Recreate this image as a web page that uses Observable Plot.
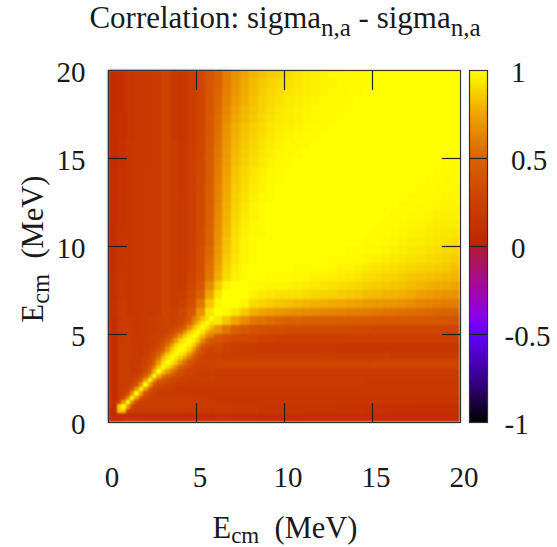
<!DOCTYPE html>
<html><head><meta charset="utf-8">
<script src="https://cdn.jsdelivr.net/npm/d3@7"></script>
<script src="https://cdn.jsdelivr.net/npm/@observablehq/plot@0.6"></script>
<style>
html,body{margin:0;padding:0;background:#fff}
#chart{position:relative;width:557px;height:547px;overflow:hidden}
#chart svg{position:absolute;left:0;top:0;background:transparent}
</style></head><body><div id="chart"></div>
<script>
// Correlation x100. The matrix is symmetric, so only x <= y is listed.
// Rows for E 0..6 MeV in 0.25 MeV bins
const fineRows = [
[12],
[10,6],
[9,7,85],
[16,7,85,100],
[18,8,24,72,100],
[16,8,20,32,68,100],
[15,8,20,22,34,68,100],
[15,8,20,22,24,36,70,100],
[14,8,20,22,22,26,38,70,100],
[14,8,20,22,22,22,28,42,72,100],
[14,8,20,22,22,20,24,30,45,70,100],
[14,8,20,22,22,20,20,26,34,50,78,100],
[14,8,20,22,22,20,20,24,30,40,60,85,100],
[14,8,20,22,22,20,18,22,27,34,48,70,90,100],
[14,8,20,22,22,20,18,20,25,30,40,58,80,93,100],
[14,8,20,22,22,20,18,18,22,28,34,46,64,84,94,100],
[14,8,20,22,22,20,18,18,21,24,29,36,48,68,85,95,100],
[14,8,20,21,22,20,18,18,20,23,26,31,40,54,72,88,96,100],
[13,8,20,21,21,20,18,18,20,22,24,27,33,42,56,72,88,96,100],
[13,8,20,21,21,19,18,18,20,22,24,25,27,33,42,54,70,86,95,100],
[13,8,19,20,21,19,17,18,20,22,22,24,26,27,32,40,52,68,84,94,100],
[13,8,18,20,20,19,17,18,20,22,22,24,26,27,26,30,38,50,66,82,93,100],
[12,8,18,20,20,18,17,18,20,22,22,24,26,27,25,26,30,38,50,65,80,92,100],
[12,8,18,20,20,18,17,18,20,22,22,24,26,27,25,25,28,34,42,60,70,82,92,100]
];
// Rows for E 6..20 MeV in 0.5 MeV bins; columns start at x = 0 in 0.5 MeV bins
const coarseRows = [
[12,20,17,18,20,20,27,24,30,42,68,93,100],
[12,19,17,18,20,20,27,22,25,36,58,84,98,100],
[11,18,17,18,20,20,27,22,22,32,48,75,93,100,100],
[11,18,17,18,20,20,27,22,20,30,42,66,86,97,100,100],
[11,18,17,18,20,20,27,22,19,28,38,58,78,90,96,99,100],
[10,16,17,18,20,20,27,22,18,26,37,56,75,88,95,98,100,100],
[10,16,17,18,20,20,27,22,18,25,36,54,72,86,93,97,99,100,100],
[10,15,17,18,19,20,27,22,18,24,35,52,70,84,92,97,99,100,100,100],
[10,15,17,18,19,20,27,22,18,24,34,50,68,83,92,97,99,100,100,100,100],
[10,15,17,18,19,20,27,22,18,24,34,50,67,81,91,96,98,99,100,100,100,100],
[9,14,17,18,19,20,27,22,18,24,33,49,66,80,90,95,98,99,100,100,100,100,100],
[9,14,17,18,19,20,27,22,18,24,33,48,65,79,89,94,97,99,100,100,100,100,100,100],
[9,14,17,18,19,20,27,21,18,24,32,48,64,78,88,93,97,99,100,100,100,100,100,100,100],
[9,14,17,18,19,20,27,21,18,24,32,47,63,77,87,92,96,98,99,100,100,100,100,100,100,100],
[9,13,17,18,19,20,27,21,17,24,31,47,62,76,86,91,95,97,99,100,100,100,100,100,100,100,100],
[9,13,17,18,19,20,27,21,17,23,31,46,61,75,85,90,94,97,98,99,100,100,100,100,100,100,100,100],
[9,13,17,18,19,20,27,21,17,23,30,46,60,74,84,89,93,96,98,99,100,100,100,100,100,100,100,100,100],
[8,12,17,18,18,20,27,21,17,23,30,45,59,72,82,87,91,94,97,98,99,100,100,100,100,100,100,100,100,100],
[8,12,17,18,18,20,28,21,17,23,29,45,58,71,81,86,90,93,96,98,99,99,100,100,100,100,100,100,100,100,100],
[8,12,17,18,18,20,28,21,17,23,29,44,57,70,80,85,89,92,95,97,98,99,99,100,100,100,100,100,100,100,100,100],
[8,11,16,18,18,20,28,20,16,23,28,44,56,69,79,84,88,91,94,96,97,98,99,99,100,100,100,100,100,100,100,100,100],
[8,11,16,18,18,20,28,20,16,23,28,43,55,68,78,83,87,90,93,95,96,97,98,99,99,100,100,100,100,100,100,100,100,100],
[8,11,16,18,18,20,28,20,16,23,28,43,54,66,76,81,85,89,92,94,95,96,97,98,99,99,100,100,100,100,100,100,100,100,100],
[8,10,16,18,18,20,28,20,16,23,28,42,53,64,74,80,84,88,91,93,95,96,97,98,98,99,99,100,100,100,100,100,100,100,100,100],
[8,10,16,18,18,20,28,20,16,23,28,42,52,62,72,78,83,87,90,92,94,95,96,97,98,98,99,99,100,100,100,100,100,100,100,100,100],
[8,10,16,18,18,20,28,20,16,23,28,41,51,61,70,77,82,86,89,91,93,94,95,96,97,98,98,99,99,100,100,100,100,100,100,100,100,100],
[8,10,16,18,18,20,28,20,16,23,28,41,50,60,69,76,81,85,88,90,92,93,95,96,97,97,98,98,99,99,100,100,100,100,100,100,100,100,100],
[8,10,16,18,18,20,28,20,16,23,28,40,50,60,68,75,80,83,86,88,91,93,95,96,97,98,98,99,99,99,100,100,100,100,100,100,100,100,100,100]
];
const axisTicks = [0,5,10,15,20];
const innerTicks = [5,10,15];
const barTicks = [-1,-0.5,0,0.5,1];
const barInnerTicks = [-0.5,0,0.5];
const colorDomain = [-1,-0.75,-0.5,-0.4,-0.25,-0.01,0,0.25,0.5,0.75,1];
const colorRange = ["#000000","#3a0090","#6400ff","#8a00f0","#a208a8","#b01838","#bf2400","#cc4000","#da6200","#f0a400","#ffff00"];
const titleParts = [["Correlation: sigma",0],["n,a",1],[" - sigma",0],["n,a",1]];
const axisParts = [["E",0],["cm",1],["\u00A0\u00A0(MeV)",0]];

const fontFamily = "'Liberation Serif', serif";
const ink = "#1a1a1a";
const colorOpts = {type:"linear",domain:colorDomain,range:colorRange,clamp:true};

// Assemble the cells, mirrored across the diagonal.
const cells = [];
function addBins(rows, startY, stepY, stepX){
  rows.forEach((row,i)=>{
    const y1 = startY + i*stepY, y2 = y1 + stepY;
    row.forEach((v,j)=>{
      const x1 = j*stepX, x2 = x1 + stepX;
      cells.push({x1,x2,y1,y2,v:v/100});
      cells.push({x1:y1,x2:y2,y1:x1,y2:x2,v:v/100});
    });
  });
}
addBins(coarseRows, 6, 0.5, 0.5);
addBins(fineRows, 0, 0.25, 0.25);

function richText(parts, size, subSize, subDrop){
  const t = d3.create("svg:text").attr("font-family",fontFamily).attr("font-size",size).attr("fill",ink).attr("text-anchor","middle");
  parts.forEach(([s,sub],i)=>{
    const span = t.append("tspan").text(s);
    if (sub) span.attr("font-size",subSize).attr("dy",subDrop);
    else if (i && parts[i-1][1]) span.attr("dy",-subDrop);
  });
  return t;
}
function labelsMark(index, {x,y}){
  const g = d3.create("svg:g");
  const title = richText(titleParts,31,25,8).attr("transform",`translate(${x(10)+1},28)`);
  const xl = richText(axisParts,30.5,23,4.5).attr("transform",`translate(${x(10)+1},538)`);
  const yl = richText(axisParts,30.5,24.5,6).attr("transform",`translate(43,${y(10)+3}) rotate(-90)`);
  g.append(()=>title.node()); g.append(()=>xl.node()); g.append(()=>yl.node());
  return g.node();
}

const main = Plot.plot({
  width:557,height:547,
  marginLeft:108,marginRight:97,marginTop:70,marginBottom:125,
  style:{background:"transparent",fontFamily},
  x:{domain:[0,20],axis:null},
  y:{domain:[0,20],axis:null},
  color:colorOpts,
  marks:[
    Plot.rect(cells,{x1:"x1",x2:"x2",y1:"y1",y2:"y2",fill:"v",shapeRendering:"crispEdges",imageFilter:"blur(1px)"}),
    Plot.frame({stroke:"#333",strokeWidth:1.2}),
    Plot.axisX({anchor:"bottom",ticks:innerTicks,tickSize:-19,text:null,stroke:"#222",strokeWidth:1.2}),
    Plot.axisX({anchor:"top",ticks:innerTicks,tickSize:-19,text:null,stroke:"#222",strokeWidth:1.2}),
    Plot.axisY({anchor:"left",ticks:innerTicks,tickSize:-19,text:null,stroke:"#222",strokeWidth:1.2}),
    Plot.axisY({anchor:"right",ticks:innerTicks,tickSize:-19,text:null,stroke:"#222",strokeWidth:1.2}),
    Plot.axisX({anchor:"bottom",ticks:axisTicks,tickSize:0,tickPadding:44,fontSize:29,fill:ink,dx:3.5,label:null,tickFormat:d=>String(d)}),
    Plot.axisY({anchor:"left",ticks:axisTicks,tickSize:0,tickPadding:23,fontSize:29,fill:ink,dy:2.5,label:null,tickFormat:d=>String(d)}),
    labelsMark
  ]
});

const barLevels = d3.range(-100,100).map(d=>d/100);
const pos = barTicks.filter(d=>d>=0), neg = barTicks.filter(d=>d<0);
const bar = Plot.plot({
  width:557,height:547,
  marginLeft:469,marginRight:70,marginTop:70,marginBottom:125,
  style:{background:"transparent",fontFamily},
  x:{domain:[0,1],axis:null},
  y:{domain:[-1,1],axis:null},
  color:colorOpts,
  marks:[
    Plot.rect(barLevels,{x1:0,x2:1,y1:d=>d,y2:d=>d+0.01,fill:d=>d+0.005,shapeRendering:"crispEdges"}),
    Plot.frame({stroke:"#333",strokeWidth:1.2}),
    Plot.axisY({anchor:"left",ticks:barInnerTicks,tickSize:-18,text:null,stroke:"#222",strokeWidth:1.2}),
    Plot.text(pos,{y:d=>d,frameAnchor:"right",text:d=>String(d),textAnchor:"start",dx:23.5,dy:2.5,fontSize:29,fill:ink}),
    Plot.text(neg,{y:d=>d,frameAnchor:"right",text:d=>String(d),textAnchor:"start",dx:17,dy:2.5,fontSize:29,fill:ink})
  ]
});
const host = document.getElementById("chart");
host.append(main, bar);
</script></body></html>
